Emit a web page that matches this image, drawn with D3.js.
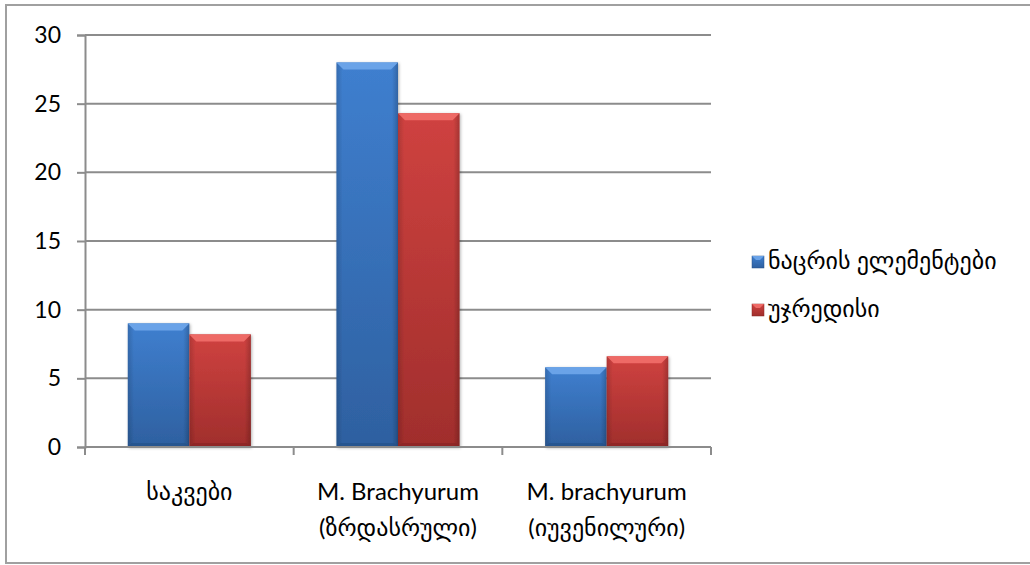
<!DOCTYPE html>
<html>
<head>
<meta charset="utf-8">
<script src="https://cdn.jsdelivr.net/npm/d3@7"></script>
<style>
  body { margin: 0; background: #fff; }
  text { font-family: Lato, "DejaVu Sans", sans-serif; fill: #000; }
</style>
</head>
<body>
<svg id="chart" width="1030" height="565"></svg>
<script>
// data
var categories = [["საკვები"], ["M. Brachyurum", "(ზრდასრული)"], ["M. brachyurum", "(იუვენილური)"]];
var seriesNames = ["ნაცრის ელემენტები", "უჯრედისი"];
var ashValues = [9.0, 28.0, 5.8];
var fiberValues = [8.2, 24.3, 6.6];
var yTicks = [0, 5, 10, 15, 20, 25, 30];

var colors = [
    {light: "#6aa3e8", mid: "#3f7fcf", dark: "#2e60a0", edge: "#244f86"},
    {light: "#ee6a66", mid: "#cf4240", dark: "#a02e2c", edge: "#862423"}
];

var svg = d3.select("#chart");
var margin = {top: 35, left: 85};
var width = 626, height = 412;

// outer frame
svg.append("rect")
    .attr("x", 6).attr("y", 5)
    .attr("width", 1030).attr("height", 558)
    .attr("fill", "white")
    .attr("stroke", "#a0a0a0")
    .attr("stroke-width", 2);

var defs = svg.append("defs");
colors.forEach(function(c, i) {
    var grad = defs.append("linearGradient")
        .attr("id", "barGrad" + i)
        .attr("x1", 0).attr("y1", 0).attr("x2", 0).attr("y2", 1);
    grad.append("stop").attr("offset", "0%").attr("stop-color", c.mid);
    grad.append("stop").attr("offset", "100%").attr("stop-color", c.dark);
    var side = defs.append("linearGradient")
        .attr("id", "sideGrad" + i)
        .attr("x1", 0).attr("y1", 0).attr("x2", 1).attr("y2", 0);
    side.append("stop").attr("offset", "0%").attr("stop-color", "#000").attr("stop-opacity", 0.15);
    side.append("stop").attr("offset", "10%").attr("stop-color", "#000").attr("stop-opacity", 0);
    side.append("stop").attr("offset", "90%").attr("stop-color", "#000").attr("stop-opacity", 0);
    side.append("stop").attr("offset", "100%").attr("stop-color", "#000").attr("stop-opacity", 0.2);
});
defs.append("filter").attr("id", "shadow")
    .attr("x", "-20%").attr("y", "-10%").attr("width", "140%").attr("height", "120%")
    .append("feDropShadow")
    .attr("dx", 1).attr("dy", 1).attr("stdDeviation", 1.5)
    .attr("flood-color", "#000").attr("flood-opacity", 0.3);

var g = svg.append("g")
    .attr("transform", "translate(" + margin.left + "," + margin.top + ")");

var x0 = d3.scaleBand()
    .domain(d3.range(categories.length))
    .range([0, width])
    .paddingInner(0)
    .paddingOuter(0);

var x1 = d3.scaleBand()
    .domain([0, 1])
    .range([0, x0.bandwidth()])
    .paddingOuter(0.695)
    .paddingInner(0);

var y = d3.scaleLinear()
    .domain([0, 30])
    .range([height, 0]);

// gridlines
g.selectAll(".grid")
    .data(yTicks.filter(function(d) { return d > 0; }))
    .enter()
    .append("line")
    .attr("x1", 0).attr("x2", width)
    .attr("y1", function(d) { return y(d); })
    .attr("y2", function(d) { return y(d); })
    .attr("stroke", "#8c8c8c")
    .attr("stroke-width", 2);

// y axis
var yAxis = d3.axisLeft(y).tickValues(yTicks).tickSize(8).tickPadding(16);
var yG = g.append("g").call(yAxis);
yG.select(".domain").attr("stroke", "#8c8c8c").attr("stroke-width", 2);
yG.selectAll(".tick line").attr("stroke", "#8c8c8c").attr("stroke-width", 2);
yG.selectAll(".tick text")
    .style("font-size", "23px")
    .style("font-family", "Lato, sans-serif")
    .attr("fill", "#000");

// bars
var series = [ashValues, fiberValues];
series.forEach(function(vals, s) {
    var bars = g.selectAll(".bar" + s)
        .data(vals)
        .enter()
        .append("g")
        .attr("class", "bar" + s)
        .attr("filter", "url(#shadow)");

    bars.append("rect")
        .attr("x", function(d, i) { return x0(i) + x1(s); })
        .attr("y", function(d) { return y(d); })
        .attr("width", x1.bandwidth())
        .attr("height", function(d) { return height - y(d); })
        .attr("fill", "url(#barGrad" + s + ")");

    bars.append("rect")
        .attr("x", function(d, i) { return x0(i) + x1(s); })
        .attr("y", function(d) { return y(d); })
        .attr("width", x1.bandwidth())
        .attr("height", function(d) { return height - y(d); })
        .attr("fill", "url(#sideGrad" + s + ")");

    // top bevel
    var bev = 7;
    bars.append("path")
        .attr("d", function(d, i) {
            var bx = x0(i) + x1(s), by = y(d), bw = x1.bandwidth();
            return "M" + bx + "," + by + "L" + (bx + bw) + "," + by +
                "L" + (bx + bw - bev) + "," + (by + bev) + "L" + (bx + bev) + "," + (by + bev) + "Z";
        })
        .attr("fill", colors[s].light);

    // bottom bevel
    bars.append("path")
        .attr("d", function(d, i) {
            var bx = x0(i) + x1(s), by = height, bw = x1.bandwidth();
            return "M" + bx + "," + by + "L" + (bx + bw) + "," + by +
                "L" + (bx + bw - 4) + "," + (by - 4) + "L" + (bx + 4) + "," + (by - 4) + "Z";
        })
        .attr("fill", colors[s].edge)
        .attr("opacity", 0.6);
});

// x axis
g.append("line")
    .attr("x1", 0).attr("x2", width)
    .attr("y1", height).attr("y2", height)
    .attr("stroke", "#8c8c8c").attr("stroke-width", 2);

g.selectAll(".xtick")
    .data(d3.range(categories.length + 1))
    .enter()
    .append("line")
    .attr("x1", function(d) { return d * x0.bandwidth(); })
    .attr("x2", function(d) { return d * x0.bandwidth(); })
    .attr("y1", height).attr("y2", height + 8)
    .attr("stroke", "#8c8c8c").attr("stroke-width", 2);

var labels = g.selectAll(".xlabel")
    .data(categories)
    .enter()
    .append("text")
    .attr("text-anchor", "middle")
    .attr("x", function(d, i) { return x0(i) + x0.bandwidth() / 2; })
    .attr("y", height + 53)
    .style("font-size", "24px");

labels.selectAll("tspan")
    .data(function(d) { return d; })
    .enter()
    .append("tspan")
    .attr("x", function() { return d3.select(this.parentNode).attr("x"); })
    .attr("dy", function(d, i) { return i === 0 ? 0 : 36; })
    .text(function(d) { return d; });

// legend
var legend = svg.append("g").attr("transform", "translate(752,256)");
seriesNames.forEach(function(name, i) {
    var row = legend.append("g").attr("transform", "translate(0," + (i * 48) + ")");
    row.append("rect")
        .attr("width", 12).attr("height", 12)
        .attr("fill", "url(#barGrad" + i + ")")
        .attr("stroke", colors[i].edge)
        .attr("stroke-width", 0.5);
    row.append("path")
        .attr("d", "M0,0L12,0L8,4L4,4Z")
        .attr("fill", colors[i].light);
    row.append("text")
        .attr("x", 16)
        .attr("y", 13)
        .style("font-size", "24px")
        .text(name);
});
</script>
</body>
</html>
